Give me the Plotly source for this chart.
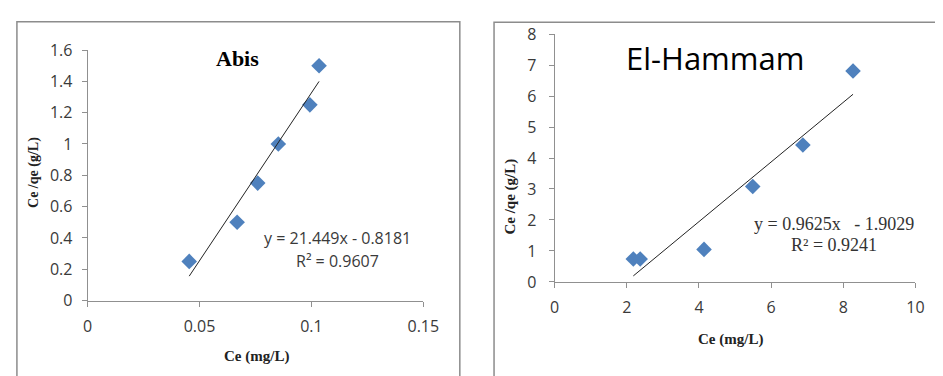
import plotly.graph_objects as go

# the page body keeps an 8px margin: figure origin sits at page pixel (8, 8)
OFF = 8
W, H = 943, 376

# ---- data ----
abis_ce = [0.0454, 0.0668, 0.076, 0.0852, 0.0993, 0.1034]
abis_ceqe = [0.25, 0.5, 0.75, 1.0, 1.25, 1.5]
abis_slope, abis_icpt = 21.449, -0.8181

ham_ce = [2.18, 2.37, 4.14, 5.49, 6.88, 8.27]
ham_ceqe = [0.74, 0.74, 1.05, 3.08, 4.42, 6.81]
ham_slope, ham_icpt = 0.9625, -1.9029

abis_xticks = [0, 0.05, 0.1, 0.15]
abis_xtext = ["0", "0.05", "0.1", "0.15"]
abis_yticks = [0, 0.2, 0.4, 0.6, 0.8, 1.0, 1.2, 1.4, 1.6]
abis_ytext = ["0", "0.2", "0.4", "0.6", "0.8", "1", "1.2", "1.4", "1.6"]
ham_xticks = [0, 2, 4, 6, 8, 10]
ham_yticks = [0, 1, 2, 3, 4, 5, 6, 7, 8]

MARK = "#4F81BD"
AX = "#909090"
sans = "Open Sans, Lato, sans-serif"
serif = "Liberation Serif, Times New Roman, serif"
TICKFONT = dict(family=sans, size=16, color="#3a3a3a")


def px(x):
    return (x - OFF) / W


def py(y):
    return 1 - (y - OFF) / H


fig = go.Figure()

fig.add_trace(go.Scatter(x=abis_ce, y=abis_ceqe, mode="markers",
                         marker=dict(symbol="diamond", size=12, color=MARK),
                         xaxis="x", yaxis="y", showlegend=False))
ax0, ax1 = min(abis_ce), max(abis_ce)
fig.add_trace(go.Scatter(x=[ax0, ax1], y=[abis_slope * ax0 + abis_icpt, abis_slope * ax1 + abis_icpt],
                         mode="lines", line=dict(color="#222222", width=1),
                         xaxis="x", yaxis="y", showlegend=False))
fig.add_trace(go.Scatter(x=ham_ce, y=ham_ceqe, mode="markers",
                         marker=dict(symbol="diamond", size=12, color=MARK),
                         xaxis="x2", yaxis="y2", showlegend=False))
hx0, hx1 = min(ham_ce), max(ham_ce)
fig.add_trace(go.Scatter(x=[hx0, hx1], y=[ham_slope * hx0 + ham_icpt, ham_slope * hx1 + ham_icpt],
                         mode="lines", line=dict(color="#222222", width=1),
                         xaxis="x2", yaxis="y2", showlegend=False))

axcommon = dict(showgrid=False, zeroline=False, showline=True, linecolor=AX, linewidth=1,
                ticks="outside", ticklen=5, tickcolor=AX, tickfont=TICKFONT)

fig.update_layout(
    width=W, height=H, margin=dict(l=0, r=0, t=0, b=0),
    paper_bgcolor="white", plot_bgcolor="white",
    xaxis=dict(domain=[px(84.3), px(427.7)], range=[0, 0.15], tickvals=abis_xticks, ticktext=abis_xtext,
               anchor="y", ticklabelstandoff=6, **axcommon),
    yaxis=dict(domain=[py(307), py(41)], range=[0, 1.6], tickvals=abis_yticks, ticktext=abis_ytext,
               anchor="x", ticklabelstandoff=6, **axcommon),
    xaxis2=dict(domain=[px(562), px(931)], range=[0, 10], tickvals=ham_xticks,
                anchor="y2", ticklabelstandoff=6, **axcommon),
    yaxis2=dict(domain=[py(287.3), py(24)], range=[0, 8], tickvals=ham_yticks,
                anchor="x2", ticklabelstandoff=9, **axcommon),
)

fig.add_shape(type="rect", xref="paper", yref="paper", x0=px(12), x1=px(465), y0=py(390), y1=py(11),
              line=dict(color="#8c8c8c", width=1.5))
fig.add_shape(type="rect", xref="paper", yref="paper", x0=px(500), x1=px(990), y0=py(390), y1=py(11.5),
              line=dict(color="#8c8c8c", width=1.5))


def ann(text, x, y, font, angle=0):
    fig.add_annotation(text=text, xref="paper", yref="paper", x=px(x), y=py(y),
                       xanchor="center", yanchor="middle", showarrow=False, font=font, textangle=angle)


ann("<b>Abis</b>", 238, 50, dict(family=serif, size=22, color="black"))
ann("El-Hammam", 726, 49, dict(family=sans, size=31, color="black"))
ann("<b>Ce (mg/L)</b>", 257, 366, dict(family=serif, size=15, color="#222"))
ann("<b>Ce (mg/L)</b>", 742, 348, dict(family=serif, size=15, color="#222"))
ann("<b>Ce /qe (g/L)</b>", 30, 171, dict(family=serif, size=14, color="#222"), angle=-90)
ann("<b>Ce /qe (g/L)</b>", 517, 197, dict(family=serif, size=15, color="#222"), angle=-90)
ann("y = 21.449x - 0.8181", 340, 241, dict(family=sans, size=16, color="#3a3a3a"))
ann("R² = 0.9607", 340, 265.5, dict(family=sans, size=16, color="#3a3a3a"))
ann("y = 0.9625x   - 1.9029", 848, 225.5, dict(family=serif, size=18, color="#333"))
ann("R² = 0.9241", 848, 248, dict(family=serif, size=18, color="#333"))

fig.write_html("out.html")
